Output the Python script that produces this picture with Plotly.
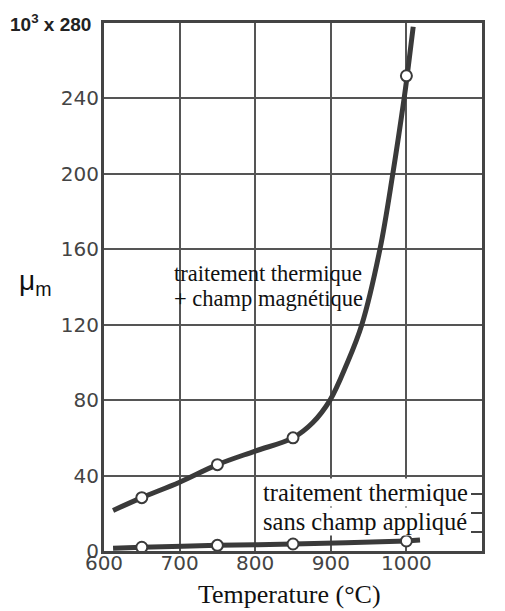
import plotly.graph_objects as go

# ---- data ----
# curve traced through the heat treatment + magnetic field points
field_curve_t = [612, 650, 700, 750, 800, 850, 876, 899, 921, 941, 965, 982, 997, 1001, 1009]
field_curve_mu = [21.5, 28.3, 36.5, 45.8, 53, 60, 68, 80, 99, 120, 160, 200, 240, 252, 278]
field_pts_t = [650, 750, 850, 1000]
field_pts_mu = [28.3, 45.8, 60, 252]

# curve without applied field
nofield_curve_t = [612, 650, 750, 850, 1000, 1018]
nofield_curve_mu = [1.5, 2.0, 3.0, 3.7, 5.3, 5.8]
nofield_pts_t = [650, 750, 850, 1000]
nofield_pts_mu = [2.0, 3.0, 3.7, 5.3]

x_ticks = [600, 700, 800, 900, 1000, 1100]
y_ticks = [0, 40, 80, 120, 160, 200, 240]
right_minor = [10, 20, 30]

LINE = "#3a3a3a"
GRID = "#555555"
TICKF = dict(family="DejaVu Sans", size=20, color="#444444")
SERIF = "Liberation Serif"

fig = go.Figure()
fig.add_trace(go.Scatter(x=field_curve_t, y=field_curve_mu, mode="lines",
                         line=dict(color=LINE, width=5, shape="spline", smoothing=1),
                         hoverinfo="skip", showlegend=False))
fig.add_trace(go.Scatter(x=nofield_curve_t, y=nofield_curve_mu, mode="lines",
                         line=dict(color=LINE, width=5, shape="spline", smoothing=0.8),
                         hoverinfo="skip", showlegend=False))
for xs, ys in [(field_pts_t, field_pts_mu), (nofield_pts_t, nofield_pts_mu)]:
    fig.add_trace(go.Scatter(x=xs, y=ys, mode="markers",
                             marker=dict(size=11, color="white", line=dict(color=LINE, width=2)),
                             showlegend=False))
# invisible helper on the right axis (for the short inside ticks)
fig.add_trace(go.Scatter(x=nofield_pts_t, y=nofield_pts_mu, yaxis="y2", mode="markers",
                         marker=dict(size=1, opacity=0), hoverinfo="skip", showlegend=False))

# page body has an 8px margin: figure is 8px smaller and margins shifted accordingly
fig.update_layout(
    width=497, height=603, autosize=False,
    margin=dict(l=96, r=23, t=12, b=60),
    paper_bgcolor="white", plot_bgcolor="white",
    xaxis=dict(range=[600, 1100], tickvals=x_ticks, ticktext=[str(v) for v in x_ticks],
               showgrid=True, gridcolor=GRID, gridwidth=1.7, zeroline=False,
               showline=True, linecolor="#444444", linewidth=3, mirror=True,
               ticks="", tickfont=TICKF, ticklabelstandoff=-8),
    yaxis=dict(range=[0, 280], tickvals=y_ticks, ticktext=[str(v) for v in y_ticks],
               showgrid=True, gridcolor=GRID, gridwidth=1.7, zeroline=False,
               showline=True, linecolor="#444444", linewidth=3, mirror=True,
               ticks="", tickfont=TICKF, ticklabelstandoff=-2),
    yaxis2=dict(range=[0, 280], overlaying="y", side="right", tickvals=right_minor,
                ticks="inside", ticklen=11, tickwidth=2, tickcolor="#444444",
                showticklabels=False, showgrid=False, zeroline=False, showline=False),
)

ann = []
ann.append(dict(text="<b>10<sup>3</sup> x 280</b>", xref="paper", yref="paper",
                x=-0.029, y=1.0, xanchor="right", yanchor="middle", showarrow=False,
                font=dict(family="Liberation Sans", size=19, color="#222222")))
ann.append(dict(text="μ<sub>m</sub>", xref="paper", yref="paper",
                x=-0.183, y=0.508, xanchor="center", yanchor="middle", showarrow=False,
                font=dict(family="Liberation Sans", size=28, color="#111111")))
ann.append(dict(text="Temperature (°C)", xref="paper", yref="paper",
                x=0.492, y=-0.083, xanchor="center", yanchor="middle", showarrow=False,
                font=dict(family=SERIF, size=26, color="#111111")))
# upper label (no background)
ann.append(dict(text="traitement thermique", x=690, y=147, xanchor="left", yanchor="middle",
                showarrow=False, font=dict(family=SERIF, size=22.5, color="#111111")))
ann.append(dict(text="+ champ magnétique", x=690, y=134, xanchor="left", yanchor="middle",
                showarrow=False, font=dict(family=SERIF, size=22.5, color="#111111")))
# lower label (white background)
ann.append(dict(text="traitement thermique", x=809, y=31, xanchor="left", yanchor="middle",
                showarrow=False, bgcolor="white", borderpad=0,
                font=dict(family=SERIF, size=24.5, color="#111111")))
ann.append(dict(text="sans champ appliqué", x=809, y=15.8, xanchor="left", yanchor="middle",
                showarrow=False, bgcolor="white", borderpad=0,
                font=dict(family=SERIF, size=24.5, color="#111111")))
fig.update_layout(annotations=ann)

fig.write_html("out.html")
